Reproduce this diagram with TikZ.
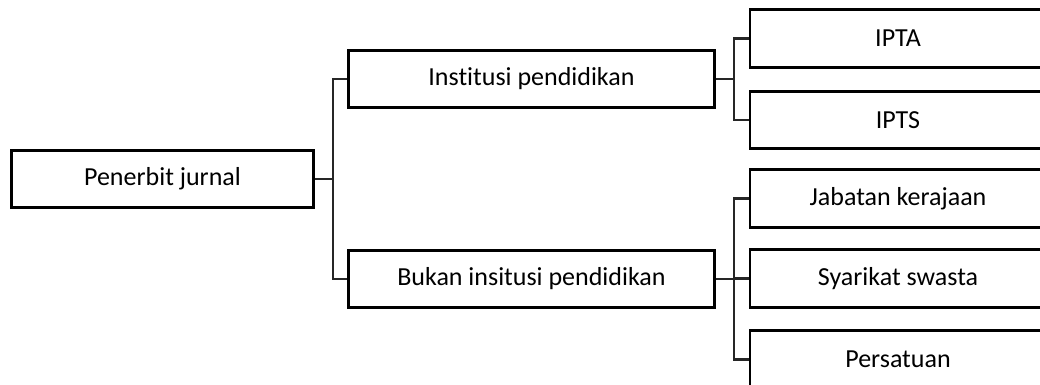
\documentclass[tikz,border=0pt]{standalone}
\usepackage{fontspec}
\setmainfont[Ligatures=NoCommon]{Carlito}
\begin{document}
\begin{tikzpicture}[x=0.75pt,y=-0.75pt,
    box/.style={draw,line width=2.2pt,minimum height=43pt,inner sep=0pt,font=\fontsize{19.5}{22}\selectfont},
    conn/.style={draw,black!85,line width=1.6pt}]
            \useasboundingbox (0,0) rectangle (1040,385);
            \clip (0,0) rectangle (1040,385);
            \node[box,minimum width=226pt] (penerbit) at (162.5,179) {Penerbit jurnal};
            \node[box,minimum width=274pt] (institusi) at (531.5,79) {Institusi pendidikan};
            \node[box,minimum width=274pt] (bukan) at (531.5,279) {Bukan insitusi pendidikan};
            \node[box,minimum width=222pt] (ipta) at (898,38.5) {IPTA};
            \node[box,minimum width=222pt] (ipts) at (898,120) {IPTS};
            \node[box,minimum width=222pt] (jabatan) at (898,198.5) {Jabatan kerajaan};
            \node[box,minimum width=222pt] (syarikat) at (898,278.5) {Syarikat swasta};
            \node[box,minimum width=222pt] (persatuan) at (898,359.5) {Persatuan};
            \draw[conn] (penerbit.east) -- ++(18,0) coordinate (j1);
            \draw[conn] (j1) |- (institusi.west);
            \draw[conn] (j1) |- (bukan.west);
            \draw[conn] (institusi.east) -- ++(18,0) coordinate (j2);
            \draw[conn] (j2) |- (ipta.west);
            \draw[conn] (j2) |- (ipts.west);
            \draw[conn] (bukan.east) -- ++(18,0) coordinate (j3);
            \draw[conn] (j3) |- (jabatan.west);
            \draw[conn] (j3) |- (syarikat.west);
            \draw[conn] (j3) |- (persatuan.west);
        \end{tikzpicture}
\end{document}
